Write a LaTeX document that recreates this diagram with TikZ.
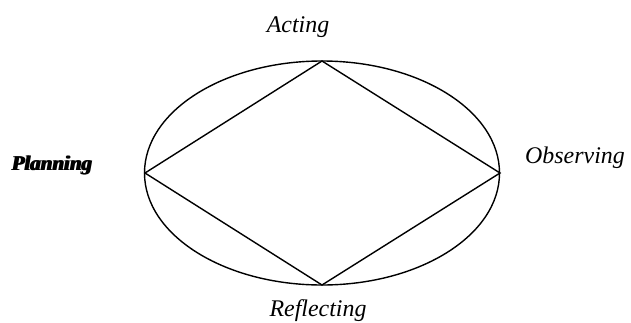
\documentclass[tikz,border=0pt]{standalone}
\usepackage{fontspec}
\setmainfont{Liberation Serif}
\begin{document}
\begin{tikzpicture}[x=1bp,y=-1bp,
  lbl/.style={font=\fontsize{24}{28}\selectfont\itshape, inner sep=0pt},
  edge/.style={line width=1.4bp}]
\useasboundingbox (0,0) rectangle (631,322);
\coordinate (T) at (322,61);
\coordinate (L) at (145,173);
\coordinate (R) at (500,173);
\coordinate (B) at (322,285);
\draw[edge] (322,173) ellipse [x radius=177.5, y radius=112];
\draw[edge, line join=miter] (T) -- (R) -- (B) -- (L) -- cycle;
\node[lbl] (acting) at (298,27) {Acting};
\node[lbl] (observing) at (575,158) {Observing};
\node[lbl] (reflecting) at (318,310.5) {Reflecting};
\node[inner sep=0pt, font=\fontsize{21}{24}\selectfont\bfseries\itshape] (planning) at (52,165) {\rlap{Planning}\hspace*{1.5bp}Planning};
\end{tikzpicture}
\end{document}
